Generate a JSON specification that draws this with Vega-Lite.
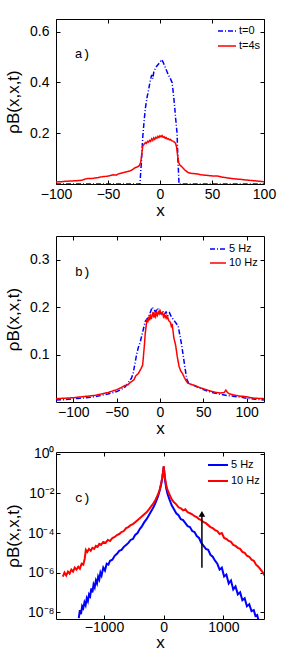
{
"$schema": "https://vega.github.io/schema/vega-lite/v6.json",
"background": "white",
"padding": {"left": 3, "top": 18, "right": 0, "bottom": 0},
"config": {
  "font": "Liberation Sans",
  "view": {"stroke": "black", "strokeWidth": 1},
  "axis": {"grid": false, "domain": false, "ticks": true, "tickSize": -4, "tickColor": "black", "tickWidth": 1, "labelFlush": false, "labelColor": "black", "labelFont": "Liberation Sans", "labelFontSize": 14, "titleFont": "Liberation Sans", "titleFontSize": 17, "titleFontWeight": "normal", "titleColor": "black"},
  "axisX": {"labelPadding": 7, "titlePadding": 1, "titleFontSize": 17},
  "axisY": {"labelPadding": 11, "titlePadding": 6},
  "legend": {"orient": "none", "labelFont": "Liberation Sans", "labelFontSize": 11, "labelColor": "black", "symbolType": "stroke", "symbolStrokeWidth": 1.5, "padding": 0, "labelOffset": 2}
},
"datasets": {
"a": [
{"x":-100,"y":0,"s":"t=0"},{"x":-19.3,"y":0,"s":"t=0"},{"x":-18,"y":0.08,"s":"t=0"},{"x":-16.5,"y":0.19,"s":"t=0"},{"x":-15,"y":0.26,"s":"t=0"},{"x":-14,"y":0.3,"s":"t=0"},{"x":-12.5,"y":0.34,"s":"t=0"},{"x":-11,"y":0.37,"s":"t=0"},{"x":-9.7,"y":0.4,"s":"t=0"},{"x":-8,"y":0.43,"s":"t=0"},{"x":-7,"y":0.415,"s":"t=0"},{"x":-6,"y":0.44,"s":"t=0"},{"x":-4,"y":0.46,"s":"t=0"},{"x":-2,"y":0.47,"s":"t=0"},{"x":0,"y":0.48,"s":"t=0"},{"x":1.5,"y":0.49,"s":"t=0"},{"x":3,"y":0.48,"s":"t=0"},{"x":4,"y":0.47,"s":"t=0"},{"x":6,"y":0.45,"s":"t=0"},{"x":8,"y":0.43,"s":"t=0"},{"x":10,"y":0.415,"s":"t=0"},{"x":11.6,"y":0.4,"s":"t=0"},{"x":12.5,"y":0.37,"s":"t=0"},{"x":13.5,"y":0.33,"s":"t=0"},{"x":14.2,"y":0.3,"s":"t=0"},{"x":15,"y":0.26,"s":"t=0"},{"x":16.4,"y":0.2,"s":"t=0"},{"x":17.2,"y":0.1,"s":"t=0"},{"x":18.3,"y":0,"s":"t=0"},{"x":100,"y":0,"s":"t=0"},
{"x":-100,"y":0.008,"s":"t=4s"},{"x":-95,"y":0.009,"s":"t=4s"},{"x":-90,"y":0.011,"s":"t=4s"},{"x":-85,"y":0.012,"s":"t=4s"},{"x":-80,"y":0.013,"s":"t=4s"},{"x":-75,"y":0.015,"s":"t=4s"},{"x":-71,"y":0.021,"s":"t=4s"},{"x":-65,"y":0.022,"s":"t=4s"},{"x":-60,"y":0.025,"s":"t=4s"},{"x":-55,"y":0.029,"s":"t=4s"},{"x":-50,"y":0.031,"s":"t=4s"},{"x":-45,"y":0.036,"s":"t=4s"},{"x":-42,"y":0.035,"s":"t=4s"},{"x":-40,"y":0.04,"s":"t=4s"},{"x":-35,"y":0.045,"s":"t=4s"},{"x":-30,"y":0.05,"s":"t=4s"},{"x":-27,"y":0.055,"s":"t=4s"},{"x":-24,"y":0.064,"s":"t=4s"},{"x":-22,"y":0.067,"s":"t=4s"},{"x":-20,"y":0.072,"s":"t=4s"},{"x":-18.5,"y":0.085,"s":"t=4s"},{"x":-17.5,"y":0.12,"s":"t=4s"},{"x":-16.5,"y":0.15,"s":"t=4s"},{"x":-15,"y":0.158,"s":"t=4s"},{"x":-14,"y":0.163,"s":"t=4s"},{"x":-13,"y":0.16,"s":"t=4s"},{"x":-12,"y":0.168,"s":"t=4s"},{"x":-11,"y":0.165,"s":"t=4s"},{"x":-10,"y":0.172,"s":"t=4s"},{"x":-9,"y":0.168,"s":"t=4s"},{"x":-8,"y":0.178,"s":"t=4s"},{"x":-7,"y":0.172,"s":"t=4s"},{"x":-6,"y":0.182,"s":"t=4s"},{"x":-5,"y":0.176,"s":"t=4s"},{"x":-4,"y":0.184,"s":"t=4s"},{"x":-3,"y":0.18,"s":"t=4s"},{"x":-2,"y":0.188,"s":"t=4s"},{"x":-1,"y":0.183,"s":"t=4s"},{"x":0,"y":0.19,"s":"t=4s"},{"x":1,"y":0.186,"s":"t=4s"},{"x":2,"y":0.191,"s":"t=4s"},{"x":3,"y":0.184,"s":"t=4s"},{"x":4,"y":0.186,"s":"t=4s"},{"x":5,"y":0.18,"s":"t=4s"},{"x":6,"y":0.183,"s":"t=4s"},{"x":7,"y":0.177,"s":"t=4s"},{"x":8,"y":0.179,"s":"t=4s"},{"x":9,"y":0.174,"s":"t=4s"},{"x":10,"y":0.176,"s":"t=4s"},{"x":11,"y":0.171,"s":"t=4s"},{"x":12,"y":0.17,"s":"t=4s"},{"x":13,"y":0.167,"s":"t=4s"},{"x":14,"y":0.165,"s":"t=4s"},{"x":15,"y":0.16,"s":"t=4s"},{"x":16,"y":0.145,"s":"t=4s"},{"x":17,"y":0.11,"s":"t=4s"},{"x":18,"y":0.085,"s":"t=4s"},{"x":19,"y":0.075,"s":"t=4s"},{"x":21,"y":0.068,"s":"t=4s"},{"x":24,"y":0.055,"s":"t=4s"},{"x":27,"y":0.045,"s":"t=4s"},{"x":30,"y":0.042,"s":"t=4s"},{"x":35,"y":0.04,"s":"t=4s"},{"x":40,"y":0.036,"s":"t=4s"},{"x":45,"y":0.034,"s":"t=4s"},{"x":50,"y":0.032,"s":"t=4s"},{"x":56,"y":0.031,"s":"t=4s"},{"x":60,"y":0.027,"s":"t=4s"},{"x":65,"y":0.024,"s":"t=4s"},{"x":70,"y":0.021,"s":"t=4s"},{"x":75,"y":0.019,"s":"t=4s"},{"x":78,"y":0.018,"s":"t=4s"},{"x":80,"y":0.017,"s":"t=4s"},{"x":85,"y":0.015,"s":"t=4s"},{"x":90,"y":0.013,"s":"t=4s"},{"x":95,"y":0.011,"s":"t=4s"},{"x":100,"y":0.009,"s":"t=4s"}
],
"b": [
{"x":-120,"y":0.004,"s":"5 Hz"},{"x":-110,"y":0.005,"s":"5 Hz"},{"x":-100,"y":0.007,"s":"5 Hz"},{"x":-90,"y":0.008,"s":"5 Hz"},{"x":-80,"y":0.01,"s":"5 Hz"},{"x":-70,"y":0.013,"s":"5 Hz"},{"x":-60,"y":0.017,"s":"5 Hz"},{"x":-50,"y":0.022,"s":"5 Hz"},{"x":-45,"y":0.026,"s":"5 Hz"},{"x":-40,"y":0.032,"s":"5 Hz"},{"x":-37,"y":0.04,"s":"5 Hz"},{"x":-35,"y":0.045,"s":"5 Hz"},{"x":-33,"y":0.05,"s":"5 Hz"},{"x":-31,"y":0.06,"s":"5 Hz"},{"x":-29,"y":0.08,"s":"5 Hz"},{"x":-27,"y":0.1,"s":"5 Hz"},{"x":-25,"y":0.115,"s":"5 Hz"},{"x":-23,"y":0.125,"s":"5 Hz"},{"x":-21,"y":0.14,"s":"5 Hz"},{"x":-19,"y":0.155,"s":"5 Hz"},{"x":-17,"y":0.17,"s":"5 Hz"},{"x":-15,"y":0.175,"s":"5 Hz"},{"x":-13,"y":0.18,"s":"5 Hz"},{"x":-11,"y":0.19,"s":"5 Hz"},{"x":-9,"y":0.2,"s":"5 Hz"},{"x":-7,"y":0.195,"s":"5 Hz"},{"x":-5,"y":0.19,"s":"5 Hz"},{"x":-3,"y":0.198,"s":"5 Hz"},{"x":-1,"y":0.19,"s":"5 Hz"},{"x":1,"y":0.186,"s":"5 Hz"},{"x":3,"y":0.192,"s":"5 Hz"},{"x":5,"y":0.185,"s":"5 Hz"},{"x":7,"y":0.19,"s":"5 Hz"},{"x":9,"y":0.182,"s":"5 Hz"},{"x":11,"y":0.188,"s":"5 Hz"},{"x":13,"y":0.18,"s":"5 Hz"},{"x":15,"y":0.175,"s":"5 Hz"},{"x":17,"y":0.17,"s":"5 Hz"},{"x":19,"y":0.165,"s":"5 Hz"},{"x":21,"y":0.16,"s":"5 Hz"},{"x":23,"y":0.14,"s":"5 Hz"},{"x":25,"y":0.12,"s":"5 Hz"},{"x":27,"y":0.095,"s":"5 Hz"},{"x":29,"y":0.07,"s":"5 Hz"},{"x":31,"y":0.048,"s":"5 Hz"},{"x":33,"y":0.04,"s":"5 Hz"},{"x":36,"y":0.037,"s":"5 Hz"},{"x":40,"y":0.034,"s":"5 Hz"},{"x":45,"y":0.03,"s":"5 Hz"},{"x":50,"y":0.026,"s":"5 Hz"},{"x":60,"y":0.02,"s":"5 Hz"},{"x":70,"y":0.016,"s":"5 Hz"},{"x":80,"y":0.013,"s":"5 Hz"},{"x":90,"y":0.011,"s":"5 Hz"},{"x":100,"y":0.008,"s":"5 Hz"},{"x":110,"y":0.006,"s":"5 Hz"},{"x":120,"y":0.004,"s":"5 Hz"},
{"x":-120,"y":0.007,"s":"10 Hz"},{"x":-110,"y":0.008,"s":"10 Hz"},{"x":-100,"y":0.009,"s":"10 Hz"},{"x":-95,"y":0.01,"s":"10 Hz"},{"x":-90,"y":0.011,"s":"10 Hz"},{"x":-85,"y":0.012,"s":"10 Hz"},{"x":-80,"y":0.013,"s":"10 Hz"},{"x":-75,"y":0.014,"s":"10 Hz"},{"x":-70,"y":0.016,"s":"10 Hz"},{"x":-65,"y":0.018,"s":"10 Hz"},{"x":-60,"y":0.02,"s":"10 Hz"},{"x":-55,"y":0.023,"s":"10 Hz"},{"x":-50,"y":0.026,"s":"10 Hz"},{"x":-45,"y":0.03,"s":"10 Hz"},{"x":-40,"y":0.035,"s":"10 Hz"},{"x":-37,"y":0.036,"s":"10 Hz"},{"x":-35,"y":0.04,"s":"10 Hz"},{"x":-30,"y":0.047,"s":"10 Hz"},{"x":-28,"y":0.055,"s":"10 Hz"},{"x":-25,"y":0.06,"s":"10 Hz"},{"x":-22,"y":0.07,"s":"10 Hz"},{"x":-20,"y":0.078,"s":"10 Hz"},{"x":-18,"y":0.12,"s":"10 Hz"},{"x":-17,"y":0.145,"s":"10 Hz"},{"x":-16,"y":0.16,"s":"10 Hz"},{"x":-15,"y":0.175,"s":"10 Hz"},{"x":-14,"y":0.168,"s":"10 Hz"},{"x":-13,"y":0.18,"s":"10 Hz"},{"x":-12,"y":0.172,"s":"10 Hz"},{"x":-11,"y":0.185,"s":"10 Hz"},{"x":-10,"y":0.175,"s":"10 Hz"},{"x":-9,"y":0.182,"s":"10 Hz"},{"x":-8,"y":0.19,"s":"10 Hz"},{"x":-7,"y":0.178,"s":"10 Hz"},{"x":-6,"y":0.186,"s":"10 Hz"},{"x":-5,"y":0.18,"s":"10 Hz"},{"x":-4,"y":0.188,"s":"10 Hz"},{"x":-3,"y":0.183,"s":"10 Hz"},{"x":-2,"y":0.19,"s":"10 Hz"},{"x":-1,"y":0.186,"s":"10 Hz"},{"x":0,"y":0.193,"s":"10 Hz"},{"x":1,"y":0.188,"s":"10 Hz"},{"x":2,"y":0.185,"s":"10 Hz"},{"x":3,"y":0.188,"s":"10 Hz"},{"x":4,"y":0.18,"s":"10 Hz"},{"x":5,"y":0.184,"s":"10 Hz"},{"x":6,"y":0.178,"s":"10 Hz"},{"x":7,"y":0.182,"s":"10 Hz"},{"x":8,"y":0.176,"s":"10 Hz"},{"x":9,"y":0.178,"s":"10 Hz"},{"x":10,"y":0.172,"s":"10 Hz"},{"x":11,"y":0.17,"s":"10 Hz"},{"x":12,"y":0.168,"s":"10 Hz"},{"x":13,"y":0.16,"s":"10 Hz"},{"x":14,"y":0.165,"s":"10 Hz"},{"x":15,"y":0.15,"s":"10 Hz"},{"x":16,"y":0.135,"s":"10 Hz"},{"x":18,"y":0.12,"s":"10 Hz"},{"x":20,"y":0.095,"s":"10 Hz"},{"x":22,"y":0.075,"s":"10 Hz"},{"x":24,"y":0.065,"s":"10 Hz"},{"x":26,"y":0.06,"s":"10 Hz"},{"x":28,"y":0.052,"s":"10 Hz"},{"x":30,"y":0.045,"s":"10 Hz"},{"x":32,"y":0.04,"s":"10 Hz"},{"x":36,"y":0.037,"s":"10 Hz"},{"x":40,"y":0.035,"s":"10 Hz"},{"x":45,"y":0.031,"s":"10 Hz"},{"x":50,"y":0.028,"s":"10 Hz"},{"x":55,"y":0.025,"s":"10 Hz"},{"x":60,"y":0.022,"s":"10 Hz"},{"x":65,"y":0.02,"s":"10 Hz"},{"x":70,"y":0.019,"s":"10 Hz"},{"x":74,"y":0.02,"s":"10 Hz"},{"x":76,"y":0.025,"s":"10 Hz"},{"x":78,"y":0.02,"s":"10 Hz"},{"x":80,"y":0.017,"s":"10 Hz"},{"x":85,"y":0.015,"s":"10 Hz"},{"x":90,"y":0.013,"s":"10 Hz"},{"x":95,"y":0.012,"s":"10 Hz"},{"x":100,"y":0.011,"s":"10 Hz"},{"x":105,"y":0.009,"s":"10 Hz"},{"x":110,"y":0.008,"s":"10 Hz"},{"x":120,"y":0.007,"s":"10 Hz"}
],
"c": [
{"x":-1423,"y":5.01e-9,"s":"5 Hz"},{"x":-1404,"y":1.26e-8,"s":"5 Hz"},{"x":-1385,"y":7.94e-9,"s":"5 Hz"},{"x":-1366,"y":2.0e-8,"s":"5 Hz"},{"x":-1347,"y":1.58e-8,"s":"5 Hz"},{"x":-1327,"y":3.16e-8,"s":"5 Hz"},{"x":-1308,"y":2.24e-8,"s":"5 Hz"},{"x":-1289,"y":5.01e-8,"s":"5 Hz"},{"x":-1270,"y":3.55e-8,"s":"5 Hz"},{"x":-1251,"y":7.94e-8,"s":"5 Hz"},{"x":-1232,"y":6.31e-8,"s":"5 Hz"},{"x":-1213,"y":1.58e-7,"s":"5 Hz"},{"x":-1194,"y":1e-7,"s":"5 Hz"},{"x":-1175,"y":2.51e-7,"s":"5 Hz"},{"x":-1156,"y":1.78e-7,"s":"5 Hz"},{"x":-1136,"y":3.98e-7,"s":"5 Hz"},{"x":-1117,"y":2.82e-7,"s":"5 Hz"},{"x":-1098,"y":6.31e-7,"s":"5 Hz"},{"x":-1079,"y":4.47e-7,"s":"5 Hz"},{"x":-1060,"y":1e-6,"s":"5 Hz"},{"x":-1041,"y":7.08e-7,"s":"5 Hz"},{"x":-1012,"y":1.78e-6,"s":"5 Hz"},{"x":-984,"y":1.26e-6,"s":"5 Hz"},{"x":-955,"y":2.82e-6,"s":"5 Hz"},{"x":-926,"y":2.51e-6,"s":"5 Hz"},{"x":-898,"y":3.98e-6,"s":"5 Hz"},{"x":-860,"y":4.47e-6,"s":"5 Hz"},{"x":-821,"y":7.08e-6,"s":"5 Hz"},{"x":-783,"y":8.91e-6,"s":"5 Hz"},{"x":-745,"y":1.26e-5,"s":"5 Hz"},{"x":-707,"y":1.41e-5,"s":"5 Hz"},{"x":-668,"y":2.0e-5,"s":"5 Hz"},{"x":-630,"y":2.51e-5,"s":"5 Hz"},{"x":-592,"y":3.16e-5,"s":"5 Hz"},{"x":-554,"y":4.47e-5,"s":"5 Hz"},{"x":-516,"y":5.01e-5,"s":"5 Hz"},{"x":-478,"y":7.94e-5,"s":"5 Hz"},{"x":-439,"y":1e-4,"s":"5 Hz"},{"x":-401,"y":1.58e-4,"s":"5 Hz"},{"x":-363,"y":2.24e-4,"s":"5 Hz"},{"x":-325,"y":3.55e-4,"s":"5 Hz"},{"x":-287,"y":5.01e-4,"s":"5 Hz"},{"x":-248,"y":7.94e-4,"s":"5 Hz"},{"x":-210,"y":1.26e-3,"s":"5 Hz"},{"x":-172,"y":2.0e-3,"s":"5 Hz"},{"x":-134,"y":3.55e-3,"s":"5 Hz"},{"x":-96,"y":7.08e-3,"s":"5 Hz"},{"x":-67,"y":1.41e-2,"s":"5 Hz"},{"x":-43,"y":2.82e-2,"s":"5 Hz"},{"x":-24,"y":6.31e-2,"s":"5 Hz"},{"x":-10,"y":0.126,"s":"5 Hz"},{"x":0,"y":0.224,"s":"5 Hz"},{"x":10,"y":0.112,"s":"5 Hz"},{"x":24,"y":4.47e-2,"s":"5 Hz"},{"x":43,"y":1.78e-2,"s":"5 Hz"},{"x":67,"y":8.91e-3,"s":"5 Hz"},{"x":96,"y":5.01e-3,"s":"5 Hz"},{"x":134,"y":2.51e-3,"s":"5 Hz"},{"x":172,"y":1.58e-3,"s":"5 Hz"},{"x":210,"y":1e-3,"s":"5 Hz"},{"x":248,"y":7.94e-4,"s":"5 Hz"},{"x":287,"y":5.01e-4,"s":"5 Hz"},{"x":325,"y":4.47e-4,"s":"5 Hz"},{"x":363,"y":3.16e-4,"s":"5 Hz"},{"x":401,"y":2.24e-4,"s":"5 Hz"},{"x":439,"y":2.0e-4,"s":"5 Hz"},{"x":478,"y":1.26e-4,"s":"5 Hz"},{"x":516,"y":1.12e-4,"s":"5 Hz"},{"x":554,"y":7.08e-5,"s":"5 Hz"},{"x":592,"y":5.62e-5,"s":"5 Hz"},{"x":630,"y":3.16e-5,"s":"5 Hz"},{"x":668,"y":2.24e-5,"s":"5 Hz"},{"x":707,"y":1.58e-5,"s":"5 Hz"},{"x":745,"y":1.41e-5,"s":"5 Hz"},{"x":783,"y":7.94e-6,"s":"5 Hz"},{"x":821,"y":6.31e-6,"s":"5 Hz"},{"x":860,"y":3.98e-6,"s":"5 Hz"},{"x":898,"y":2.82e-6,"s":"5 Hz"},{"x":936,"y":1.41e-6,"s":"5 Hz"},{"x":974,"y":1.78e-6,"s":"5 Hz"},{"x":1012,"y":6.31e-7,"s":"5 Hz"},{"x":1050,"y":7.94e-7,"s":"5 Hz"},{"x":1089,"y":2.82e-7,"s":"5 Hz"},{"x":1127,"y":3.98e-7,"s":"5 Hz"},{"x":1165,"y":1.41e-7,"s":"5 Hz"},{"x":1203,"y":2.0e-7,"s":"5 Hz"},{"x":1242,"y":7.94e-8,"s":"5 Hz"},{"x":1280,"y":1e-7,"s":"5 Hz"},{"x":1318,"y":3.98e-8,"s":"5 Hz"},{"x":1356,"y":5.01e-8,"s":"5 Hz"},{"x":1394,"y":2.0e-8,"s":"5 Hz"},{"x":1433,"y":2.51e-8,"s":"5 Hz"},{"x":1471,"y":1.12e-8,"s":"5 Hz"},{"x":1509,"y":1.26e-8,"s":"5 Hz"},{"x":1537,"y":6.31e-9,"s":"5 Hz"},{"x":1566,"y":7.08e-9,"s":"5 Hz"},{"x":1595,"y":3.16e-9,"s":"5 Hz"},
{"x":-1690,"y":6.31e-7,"s":"10 Hz"},{"x":-1662,"y":1e-6,"s":"10 Hz"},{"x":-1633,"y":7.08e-7,"s":"10 Hz"},{"x":-1604,"y":1.12e-6,"s":"10 Hz"},{"x":-1576,"y":8.91e-7,"s":"10 Hz"},{"x":-1547,"y":1.41e-6,"s":"10 Hz"},{"x":-1518,"y":1.12e-6,"s":"10 Hz"},{"x":-1490,"y":1.78e-6,"s":"10 Hz"},{"x":-1461,"y":1.41e-6,"s":"10 Hz"},{"x":-1432,"y":2.0e-6,"s":"10 Hz"},{"x":-1404,"y":1.58e-6,"s":"10 Hz"},{"x":-1375,"y":2.82e-6,"s":"10 Hz"},{"x":-1347,"y":2.51e-6,"s":"10 Hz"},{"x":-1323,"y":5.01e-6,"s":"10 Hz"},{"x":-1304,"y":1.41e-5,"s":"10 Hz"},{"x":-1280,"y":1.12e-5,"s":"10 Hz"},{"x":-1251,"y":1.58e-5,"s":"10 Hz"},{"x":-1222,"y":1.26e-5,"s":"10 Hz"},{"x":-1194,"y":1.78e-5,"s":"10 Hz"},{"x":-1165,"y":1.58e-5,"s":"10 Hz"},{"x":-1136,"y":2.24e-5,"s":"10 Hz"},{"x":-1108,"y":2.0e-5,"s":"10 Hz"},{"x":-1079,"y":2.82e-5,"s":"10 Hz"},{"x":-1050,"y":2.51e-5,"s":"10 Hz"},{"x":-1012,"y":3.55e-5,"s":"10 Hz"},{"x":-974,"y":3.16e-5,"s":"10 Hz"},{"x":-936,"y":4.47e-5,"s":"10 Hz"},{"x":-898,"y":3.98e-5,"s":"10 Hz"},{"x":-860,"y":5.62e-5,"s":"10 Hz"},{"x":-821,"y":6.31e-5,"s":"10 Hz"},{"x":-783,"y":7.94e-5,"s":"10 Hz"},{"x":-745,"y":8.91e-5,"s":"10 Hz"},{"x":-707,"y":1.12e-4,"s":"10 Hz"},{"x":-668,"y":1.26e-4,"s":"10 Hz"},{"x":-630,"y":1.78e-4,"s":"10 Hz"},{"x":-592,"y":2.0e-4,"s":"10 Hz"},{"x":-554,"y":2.51e-4,"s":"10 Hz"},{"x":-516,"y":2.82e-4,"s":"10 Hz"},{"x":-478,"y":3.55e-4,"s":"10 Hz"},{"x":-439,"y":4.47e-4,"s":"10 Hz"},{"x":-401,"y":5.62e-4,"s":"10 Hz"},{"x":-363,"y":7.08e-4,"s":"10 Hz"},{"x":-325,"y":8.91e-4,"s":"10 Hz"},{"x":-287,"y":1.12e-3,"s":"10 Hz"},{"x":-248,"y":1.58e-3,"s":"10 Hz"},{"x":-210,"y":2.24e-3,"s":"10 Hz"},{"x":-172,"y":3.16e-3,"s":"10 Hz"},{"x":-134,"y":5.01e-3,"s":"10 Hz"},{"x":-96,"y":8.91e-3,"s":"10 Hz"},{"x":-67,"y":1.58e-2,"s":"10 Hz"},{"x":-43,"y":3.16e-2,"s":"10 Hz"},{"x":-24,"y":6.31e-2,"s":"10 Hz"},{"x":-10,"y":0.126,"s":"10 Hz"},{"x":0,"y":0.24,"s":"10 Hz"},{"x":10,"y":0.126,"s":"10 Hz"},{"x":24,"y":5.62e-2,"s":"10 Hz"},{"x":43,"y":2.51e-2,"s":"10 Hz"},{"x":67,"y":1.41e-2,"s":"10 Hz"},{"x":96,"y":8.91e-3,"s":"10 Hz"},{"x":134,"y":5.01e-3,"s":"10 Hz"},{"x":172,"y":3.55e-3,"s":"10 Hz"},{"x":210,"y":2.82e-3,"s":"10 Hz"},{"x":248,"y":2.0e-3,"s":"10 Hz"},{"x":287,"y":1.78e-3,"s":"10 Hz"},{"x":325,"y":1.41e-3,"s":"10 Hz"},{"x":363,"y":1.58e-3,"s":"10 Hz"},{"x":401,"y":1.12e-3,"s":"10 Hz"},{"x":439,"y":1e-3,"s":"10 Hz"},{"x":478,"y":8.91e-4,"s":"10 Hz"},{"x":516,"y":7.08e-4,"s":"10 Hz"},{"x":554,"y":6.31e-4,"s":"10 Hz"},{"x":592,"y":5.01e-4,"s":"10 Hz"},{"x":630,"y":4.47e-4,"s":"10 Hz"},{"x":668,"y":3.55e-4,"s":"10 Hz"},{"x":707,"y":3.16e-4,"s":"10 Hz"},{"x":745,"y":2.51e-4,"s":"10 Hz"},{"x":783,"y":2.0e-4,"s":"10 Hz"},{"x":821,"y":1.78e-4,"s":"10 Hz"},{"x":860,"y":1.41e-4,"s":"10 Hz"},{"x":898,"y":1.26e-4,"s":"10 Hz"},{"x":936,"y":8.91e-5,"s":"10 Hz"},{"x":974,"y":1e-4,"s":"10 Hz"},{"x":1012,"y":5.62e-5,"s":"10 Hz"},{"x":1050,"y":5.01e-5,"s":"10 Hz"},{"x":1089,"y":3.98e-5,"s":"10 Hz"},{"x":1127,"y":3.55e-5,"s":"10 Hz"},{"x":1165,"y":2.51e-5,"s":"10 Hz"},{"x":1203,"y":2.24e-5,"s":"10 Hz"},{"x":1242,"y":1.78e-5,"s":"10 Hz"},{"x":1280,"y":1.58e-5,"s":"10 Hz"},{"x":1318,"y":1.12e-5,"s":"10 Hz"},{"x":1356,"y":1e-5,"s":"10 Hz"},{"x":1394,"y":7.08e-6,"s":"10 Hz"},{"x":1433,"y":6.31e-6,"s":"10 Hz"},{"x":1471,"y":4.47e-6,"s":"10 Hz"},{"x":1509,"y":3.98e-6,"s":"10 Hz"},{"x":1547,"y":2.51e-6,"s":"10 Hz"},{"x":1585,"y":2.0e-6,"s":"10 Hz"},{"x":1624,"y":1.41e-6,"s":"10 Hz"},{"x":1662,"y":1e-6,"s":"10 Hz"},{"x":1690,"y":7.08e-7,"s":"10 Hz"}
]
},
"spacing": 9,
"resolve": {"scale": {"x": "independent", "y": "independent", "color": "independent", "strokeDash": "independent"}, "legend": {"color": "independent", "strokeDash": "independent"}},
"vconcat": [
 {
  "spacing": 16,
  "resolve": {"scale": {"x": "independent", "y": "independent", "color": "independent", "strokeDash": "independent"}, "legend": {"color": "independent", "strokeDash": "independent"}},
  "vconcat": [
   {
    "width": 208, "height": 165,
    "layer": [
     {"data": {"name": "a"}, "mark": {"type": "line", "strokeWidth": 1.5, "clip": true},
      "encoding": {
       "x": {"field": "x", "type": "quantitative", "scale": {"domain": [-100, 100], "nice": false, "zero": false}, "axis": {"values": [-100, -50, 0, 50, 100], "title": "x"}},
       "y": {"field": "y", "type": "quantitative", "scale": {"domain": [0, 0.65], "nice": false}, "axis": {"values": [0.2, 0.4, 0.6], "format": ".1f", "title": "ρB(x,x,t)", "minExtent": 28, "maxExtent": 28}},
       "color": {"field": "s", "type": "nominal", "scale": {"domain": ["t=0", "t=4s"], "range": ["#0000ff", "#ff0000"]}, "legend": {"title": null, "legendX": 161, "legendY": 2, "symbolSize": 324, "rowPadding": -3}},
       "strokeDash": {"field": "s", "type": "nominal", "scale": {"domain": ["t=0", "t=4s"], "range": [[5, 2, 1, 2], [1, 0]]}, "legend": {"title": null, "legendX": 161, "legendY": 2, "symbolSize": 324, "rowPadding": -3}}
      }},
     {"data": {"values": [{"x": -82, "y": 0.512, "t": "a)"}]}, "mark": {"type": "text", "font": "Liberation Mono", "fontSize": 13, "align": "left", "baseline": "middle", "color": "black"},
      "encoding": {
       "x": {"field": "x", "type": "quantitative", "axis": {"values": [-100, -50, 0, 50, 100], "labels": false, "title": null}},
       "y": {"field": "y", "type": "quantitative", "axis": {"values": [0.2, 0.4, 0.6], "labels": false, "title": null}},
       "text": {"field": "t"}
      }}
    ],
    "resolve": {"axis": {"x": "independent", "y": "independent"}}
   },
   {
    "width": 208, "height": 166,
    "layer": [
     {"data": {"name": "b"}, "mark": {"type": "line", "strokeWidth": 1.5, "clip": true},
      "encoding": {
       "x": {"field": "x", "type": "quantitative", "scale": {"domain": [-120, 120], "nice": false, "zero": false}, "axis": {"values": [-100, -50, 0, 50, 100], "title": "x"}},
       "y": {"field": "y", "type": "quantitative", "scale": {"domain": [0, 0.35], "nice": false}, "axis": {"values": [0.1, 0.2, 0.3], "format": ".1f", "title": "ρB(x,x,t)", "minExtent": 28, "maxExtent": 28}},
       "color": {"field": "s", "type": "nominal", "scale": {"domain": ["5 Hz", "10 Hz"], "range": ["#0000ff", "#ff0000"]}, "legend": {"title": null, "legendX": 153, "legendY": 4, "symbolSize": 256, "rowPadding": -3}},
       "strokeDash": {"field": "s", "type": "nominal", "scale": {"domain": ["5 Hz", "10 Hz"], "range": [[5, 2, 1, 2], [1, 0]]}, "legend": {"title": null, "legendX": 153, "legendY": 4, "symbolSize": 256, "rowPadding": -3}}
      }},
     {"data": {"values": [{"x": -98, "y": 0.274, "t": "b)"}]}, "mark": {"type": "text", "font": "Liberation Mono", "fontSize": 13, "align": "left", "baseline": "middle", "color": "black"},
      "encoding": {
       "x": {"field": "x", "type": "quantitative", "axis": {"values": [-100, -50, 0, 50, 100], "labels": false, "title": null}},
       "y": {"field": "y", "type": "quantitative", "axis": {"values": [0.1, 0.2, 0.3], "labels": false, "title": null}},
       "text": {"field": "t"}
      }}
    ],
    "resolve": {"axis": {"x": "independent", "y": "independent"}}
   }
  ]
 },
 {
  "width": 208, "height": 167,
  "layer": [
   {"data": {"name": "c"}, "mark": {"type": "line", "strokeWidth": 2, "clip": true},
    "encoding": {
     "x": {"field": "x", "type": "quantitative", "scale": {"domain": [-1804, 1680], "nice": false, "zero": false}, "axis": {"values": [-1000, 0, 1000], "format": "d", "title": "x", "labelPadding": 5, "titlePadding": 0}},
     "y": {"field": "y", "type": "quantitative", "scale": {"type": "log", "domain": [4.5e-9, 1.25], "nice": false}, "axis": {"values": [1, 0.01, 0.0001, 0.000001, 0.00000001], "labelExpr": "datum.value > 0.1 ? '10⁰' : datum.value > 0.001 ? '10⁻²' : datum.value > 0.00001 ? '10⁻⁴' : datum.value > 0.0000001 ? '10⁻⁶' : '10⁻⁸'", "labelPadding": 6, "title": "ρB(x,x,t)", "minExtent": 28, "maxExtent": 28}},
     "color": {"field": "s", "type": "nominal", "scale": {"domain": ["5 Hz", "10 Hz"], "range": ["#0000ff", "#ff0000"]}, "legend": {"title": null, "symbolStrokeWidth": 2, "legendX": 151, "legendY": 2, "symbolSize": 400, "rowPadding": -6}}
    }},
   {"data": {"values": [{"x": -1486, "y": 0.006, "t": "c)"}]}, "mark": {"type": "text", "font": "Liberation Mono", "fontSize": 13, "align": "left", "baseline": "middle", "color": "black"},
    "encoding": {
     "x": {"field": "x", "type": "quantitative", "axis": {"values": [-1000, 0, 1000], "labels": false, "title": null}},
     "y": {"field": "y", "type": "quantitative", "axis": {"values": [1, 0.01, 0.0001, 0.000001, 0.00000001], "labels": false, "title": null}},
     "text": {"field": "t"}
    }},
   {"data": {"values": [{"x": 640, "y": 1.74e-6, "y2": 9.3e-4}]}, "mark": {"type": "rule", "color": "black", "strokeWidth": 1.5},
    "encoding": {
     "x": {"field": "x", "type": "quantitative", "axis": null},
     "y": {"field": "y", "type": "quantitative", "axis": null},
     "y2": {"field": "y2"}
    }},
   {"data": {"values": [{"x": 640, "y": 9.3e-4}]}, "mark": {"type": "point", "shape": "triangle-up", "filled": true, "color": "black", "size": 45, "opacity": 1},
    "encoding": {
     "x": {"field": "x", "type": "quantitative", "axis": null},
     "y": {"field": "y", "type": "quantitative", "axis": null}
    }}
  ],
  "resolve": {"axis": {"x": "independent", "y": "independent"}}
 }
]
}
